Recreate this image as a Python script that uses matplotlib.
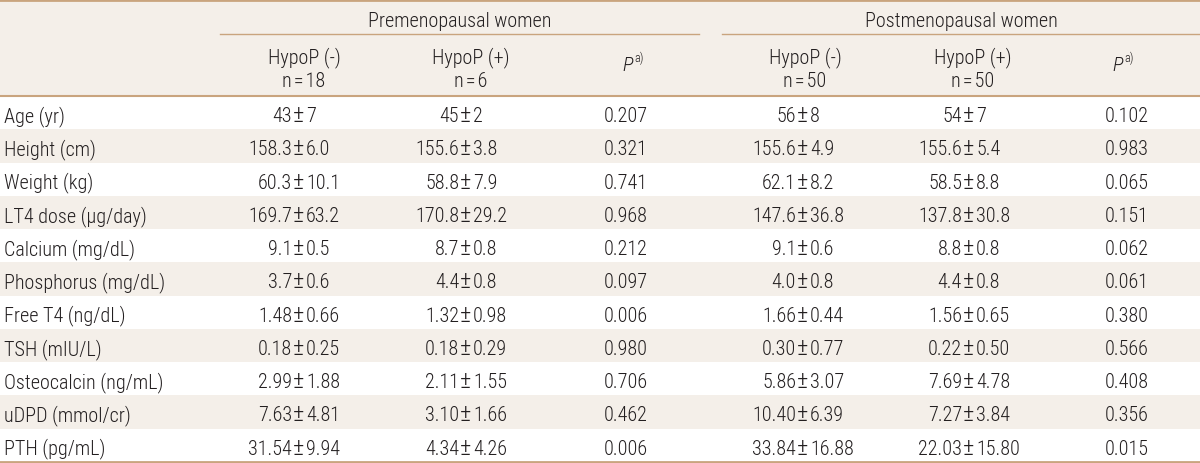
import matplotlib
matplotlib.use('Agg')
import matplotlib.pyplot as plt
from matplotlib import font_manager
from matplotlib.patches import Rectangle

# pick a narrow sans font if there is one
names = {f.name for f in font_manager.fontManager.ttflist}
font = next(n for n in ['Roboto Condensed', 'Liberation Sans Narrow', 'Liberation Sans', 'DejaVu Sans'] if n in names)
plt.rcParams['font.family'] = [font, 'DejaVu Sans']
plt.rcParams['font.weight'] = 'light'

# table data
labels = ['Age (yr)', 'Height (cm)', 'Weight (kg)', 'LT4 dose (\u00b5g/day)', 'Calcium (mg/dL)',
          'Phosphorus (mg/dL)', 'Free T4 (ng/dL)', 'TSH (mIU/L)', 'Osteocalcin (ng/mL)',
          'uDPD (mmol/cr)', 'PTH (pg/mL)']
groups = ['Premenopausal women', 'Postmenopausal women']
sub_heads = ['HypoP (-)', 'HypoP (+)', 'HypoP (-)', 'HypoP (+)']
group_n = ['18', '6', '50', '50']

pre_neg_mean = ['43', '158.3', '60.3', '169.7', '9.1', '3.7', '1.48', '0.18', '2.99', '7.63', '31.54']
pre_neg_sd = ['7', '6.0', '10.1', '63.2', '0.5', '0.6', '0.66', '0.25', '1.88', '4.81', '9.94']
pre_pos_mean = ['45', '155.6', '58.8', '170.8', '8.7', '4.4', '1.32', '0.18', '2.11', '3.10', '4.34']
pre_pos_sd = ['2', '3.8', '7.9', '29.2', '0.8', '0.8', '0.98', '0.29', '1.55', '1.66', '4.26']
pre_p = ['0.207', '0.321', '0.741', '0.968', '0.212', '0.097', '0.006', '0.980', '0.706', '0.462', '0.006']
post_neg_mean = ['56', '155.6', '62.1', '147.6', '9.1', '4.0', '1.66', '0.30', '5.86', '10.40', '33.84']
post_neg_sd = ['8', '4.9', '8.2', '36.8', '0.6', '0.8', '0.44', '0.77', '3.07', '6.39', '16.88']
post_pos_mean = ['54', '155.6', '58.5', '137.8', '8.8', '4.4', '1.56', '0.22', '7.69', '7.27', '22.03']
post_pos_sd = ['7', '5.4', '8.8', '30.8', '0.8', '0.8', '0.65', '0.50', '4.78', '3.84', '15.80']
post_p = ['0.102', '0.983', '0.065', '0.151', '0.062', '0.061', '0.380', '0.566', '0.408', '0.356', '0.015']

beige = '#f4efe9'
line_c = '#c9a47e'
txt_c = '#231f20'
fs = 14.5

fig = plt.figure(figsize=(12, 4.64), dpi=100)
ax = fig.add_axes([0, 0, 1, 1])
ax.set_xlim(0, 1200)
ax.set_ylim(464, 0)
ax.axis('off')

head_h = 97
row_h = (463 - head_h) / len(labels)

# backgrounds
ax.add_patch(Rectangle((0, 0), 1200, head_h, color=beige, lw=0))
for i in range(len(labels)):
    if i % 2 == 1:
        ax.add_patch(Rectangle((0, head_h + i * row_h), 1200, row_h, color=beige, lw=0))

# rules
ax.plot([0, 1200], [1, 1], color=line_c, lw=2)
ax.plot([0, 1200], [head_h, head_h], color=line_c, lw=1.5)
ax.plot([0, 1200], [463, 463], color=line_c, lw=2)
ax.plot([220, 699], [35, 35], color=line_c, lw=1)
ax.plot([722, 1200], [35, 35], color=line_c, lw=1)


def pm_text(xpm, y, left, right, size):
    # value, wide plus-minus sign, value -- lined up on the sign
    ax.text(xpm - 7, y, left, ha='right', va='baseline', fontsize=size, color=txt_c)
    ax.text(xpm, y, '\u00b1', ha='center', va='baseline', fontsize=size * 1.2, color=txt_c)
    ax.text(xpm + 7, y, right, ha='left', va='baseline', fontsize=size, color=txt_c)


# header
for g, x in zip(groups, [460, 961]):
    ax.text(x, 27, g, ha='center', va='baseline', fontsize=fs, color=txt_c)
for h, n, x in zip(sub_heads, group_n, [304, 471, 805, 973]):
    ax.text(x, 63, h, ha='center', va='baseline', fontsize=fs, color=txt_c)
    ax.text(x, 87, 'n\u200a=\u200a' + n, ha='center', va='baseline', fontsize=fs, color=txt_c)
for x in [633, 1123]:
    ax.text(x, 71, 'P', ha='right', va='baseline', fontsize=fs, style='italic', color=txt_c)
    ax.text(x + 1, 62, 'a)', ha='left', va='baseline', fontsize=fs * 0.6, color=txt_c)

# body
cols = [(pre_neg_mean, pre_neg_sd, 299), (pre_pos_mean, pre_pos_sd, 466),
        (post_neg_mean, post_neg_sd, 803), (post_pos_mean, post_pos_sd, 969)]
for i, lab in enumerate(labels):
    yb = head_h + i * row_h + 25
    ax.text(4, yb, lab, ha='left', va='baseline', fontsize=fs, color=txt_c)
    for means, sds, xpm in cols:
        pm_text(xpm, yb, means[i], sds[i], fs)
    ax.text(626, yb, pre_p[i], ha='center', va='baseline', fontsize=fs, color=txt_c)
    ax.text(1127, yb, post_p[i], ha='center', va='baseline', fontsize=fs, color=txt_c)

fig.savefig('out.png', dpi=100)
